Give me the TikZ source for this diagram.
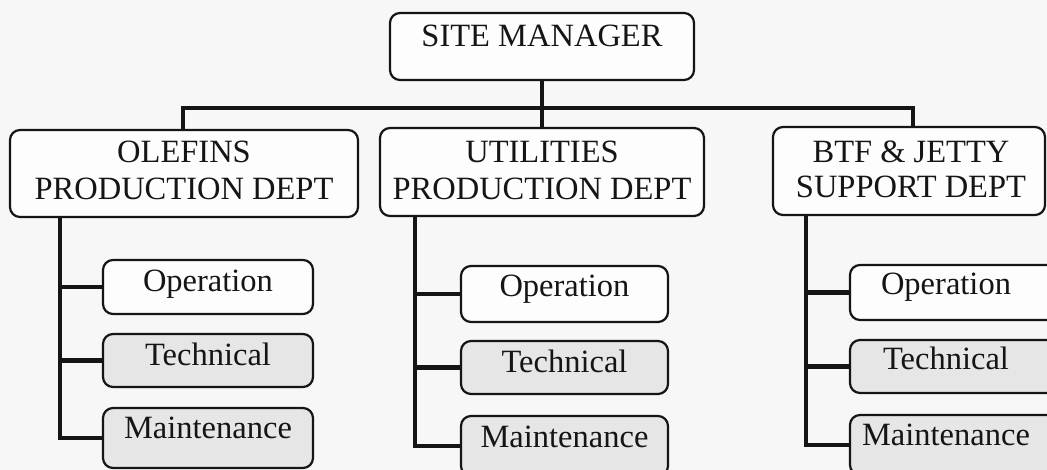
\documentclass[tikz,border=0pt]{standalone}
\usepackage{fontspec}
\setmainfont{Liberation Serif}
\definecolor{bgc}{HTML}{F7F7F7}
\definecolor{wbox}{HTML}{FDFDFD}
\definecolor{gbox}{HTML}{E6E6E6}
\definecolor{ink}{HTML}{151515}
\begin{document}
\begin{tikzpicture}[x=1pt,y=-1pt,
  box/.style={draw=ink,line width=2.2pt,rounded corners=10pt,inner sep=0pt,fill=wbox},
  gbx/.style={box,fill=gbox},
  txt/.style={anchor=base,inner sep=0pt,text=ink,font=\fontsize{32.5}{37}\selectfont},
  conn/.style={draw=ink,line width=4.6pt,line join=miter}]
\useasboundingbox (0,0) rectangle (1047,470);
\fill[bgc] (0,0) rectangle (1047,470);

% top
\node[box,minimum width=304pt,minimum height=67pt] (sm) at (542,46.5) {};
\node[txt] (tsm) at (542,47) {SITE MANAGER};

% departments
\node[box,minimum width=348pt,minimum height=87pt] (olef) at (184,173.5) {};
\node[txt] (to1) at (184,163) {OLEFINS};
\node[txt] (to2) at (184,200) {PRODUCTION DEPT};

\node[box,minimum width=324pt,minimum height=88pt] (util) at (542,172) {};
\node[txt] (tu1) at (542,163) {UTILITIES};
\node[txt] (tu2) at (542,200) {PRODUCTION DEPT};

\node[box,minimum width=272pt,minimum height=88pt] (btf) at (909,171) {};
\node[txt] (tb1) at (911,163) {BTF \& JETTY};
\node[txt] (tb2) at (911,198) {SUPPORT DEPT};

% olefins sections
\node[box,minimum width=210pt,minimum height=54pt] (oop) at (208,287) {};
\node[txt] (too) at (208,292) {Operation};
\node[gbx,minimum width=210pt,minimum height=53pt] (ote) at (208,360.5) {};
\node[txt] (tot) at (208,365) {Technical};
\node[gbx,minimum width=210pt,minimum height=60pt] (oma) at (208,438) {};
\node[txt] (tom) at (208,438) {Maintenance};

% utilities sections
\node[box,minimum width=207pt,minimum height=56pt] (uop) at (564.5,294) {};
\node[txt] (tuo) at (564.5,297) {Operation};
\node[gbx,minimum width=207pt,minimum height=53pt] (ute) at (564.5,367.5) {};
\node[txt] (tut) at (564.5,372) {Technical};
\node[gbx,minimum width=207pt,minimum height=60pt] (uma) at (564.5,446) {};
\node[txt] (tum) at (564.5,447) {Maintenance};

% btf sections
\node[box,minimum width=207pt,minimum height=55pt] (bop) at (953.5,292.5) {};
\node[txt] (tbo) at (946,295) {Operation};
\node[gbx,minimum width=207pt,minimum height=53pt] (bte) at (953.5,366.5) {};
\node[txt] (tbt) at (946,370) {Technical};
\node[gbx,minimum width=207pt,minimum height=60pt] (bma) at (953.5,445) {};
\node[txt] (tbm) at (946,445) {Maintenance};

% top connectors
\coordinate (bar) at (542,108);
\draw[conn] (sm.south) -- (util.north);
\draw[conn] (olef.north -| 183,0) |- (bar) -| (btf.north -| 913,0);

% sub trees
\coordinate (oT) at (60,217);
\coordinate (uT) at (415,216);
\coordinate (bT) at (806,215);
\draw[conn] (oT) |- (oma.west);
\draw[conn] (oT |- oop.west) -- (oop.west);
\draw[conn] (oT |- ote.west) -- (ote.west);
\draw[conn] (uT) |- (uma.west);
\draw[conn] (uT |- uop.west) -- (uop.west);
\draw[conn] (uT |- ute.west) -- (ute.west);
\draw[conn] (bT) |- (bma.west);
\draw[conn] (bT |- bop.west) -- (bop.west);
\draw[conn] (bT |- bte.west) -- (bte.west);
\end{tikzpicture}
\end{document}
